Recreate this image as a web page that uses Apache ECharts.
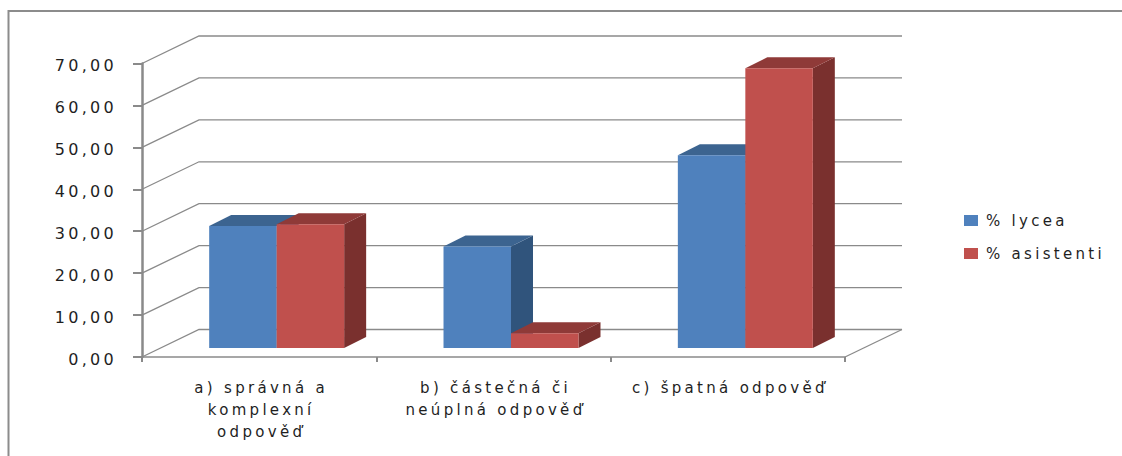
<!DOCTYPE html>
<html>
<head>
<meta charset="utf-8">
<style>
  html, body { margin: 0; padding: 0; background: #fff; }
  #chart { width: 1122px; height: 456px; }
  svg text { letter-spacing: 3.3px; }
</style>
<script src="https://cdn.jsdelivr.net/npm/echarts@6/dist/echarts.min.js"></script>
</head>
<body>
<div id="chart"></div>
<script>
const categories = ['a) správná a\nkomplexní\nodpověď', 'b) částečná či\nneúplná odpověď', 'c) špatná odpověď'];
const lycea = [29.1, 24.2, 46.0];
const asistenti = [29.5, 3.5, 66.7];
const yTicks = [0, 10, 20, 30, 40, 50, 60, 70];

// Oblique projection used for the pseudo-3D look, in pixels.
const WALL = { dx: 57, dy: 27.5 };
const BAR_OFFSET = { dx: 17.5, dy: 9 };
const BAR_DEPTH = { dx: 22, dy: 11 };
const BAR_BAND_RATIO = 0.288;

const GRID_COLOR = '#8a8a8a';
const TEXT_COLOR = '#1f1f1f';
const FONT = '"DejaVu Sans", sans-serif';

const palettes = [
  { front: '#4f81bd', top: '#3c6490', side: '#30547c' },
  { front: '#c0504d', top: '#8f3a38', side: '#7a302e' }
];

// Draws the back wall: one receding line and one horizontal line per tick.
function renderWall(params, api) {
  const rect = params.coordSys;
  const p = api.coord([0, api.value(1)]);
  const x0 = rect.x;
  const y = p[1];
  const lineStyle = { stroke: GRID_COLOR, lineWidth: 1.3, fill: null };
  const children = [{
    type: 'polyline',
    shape: { points: [[x0, y], [x0 + WALL.dx, y - WALL.dy], [x0 + rect.width + WALL.dx, y - WALL.dy]] },
    style: lineStyle
  }];
  if (api.value(1) === 0) {
    children.push({
      type: 'line',
      shape: { x1: x0 + rect.width, y1: y, x2: x0 + rect.width + WALL.dx, y2: y - WALL.dy },
      style: lineStyle
    });
  }
  return { type: 'group', children };
}

// Draws a cuboid: side, top and front faces of one bar.
function renderBar(seriesPos) {
  const colors = palettes[seriesPos];
  return function (params, api) {
    const top = api.coord([api.value(0), api.value(1)]);
    const base = api.coord([api.value(0), 0]);
    const w = api.size([1, 0])[0] * BAR_BAND_RATIO;
    const xl = top[0] + BAR_OFFSET.dx + (seriesPos - 1) * w;
    const xr = xl + w;
    const yt = top[1] - BAR_OFFSET.dy;
    const yb = base[1] - BAR_OFFSET.dy;
    const dx = BAR_DEPTH.dx;
    const dy = BAR_DEPTH.dy;
    return {
      type: 'group',
      children: [
        { type: 'polygon',
          shape: { points: [[xr, yt], [xr + dx, yt - dy], [xr + dx, yb - dy], [xr, yb]] },
          style: { fill: colors.side } },
        { type: 'polygon',
          shape: { points: [[xl, yt], [xl + dx, yt - dy], [xr + dx, yt - dy], [xr, yt]] },
          style: { fill: colors.top } },
        { type: 'rect',
          shape: { x: xl, y: yt, width: w, height: yb - yt },
          style: { fill: colors.front } }
      ]
    };
  };
}

function barSeries(name, values, pos) {
  return {
    type: 'custom',
    name,
    z: 3 + pos,
    clip: false,
    silent: true,
    renderItem: renderBar(pos),
    itemStyle: { color: palettes[pos].front },
    encode: { x: 0, y: 1 },
    data: values.map((v, i) => [i, v])
  };
}

const chart = echarts.init(document.getElementById('chart'), null, { renderer: 'svg' });
chart.setOption({
  animation: false,
  backgroundColor: '#fff',
  graphic: [{
    type: 'rect',
    silent: true,
    shape: { x: 8.5, y: 11, width: 1300, height: 600 },
    style: { fill: null, stroke: '#8c8c8c', lineWidth: 2 }
  }],
  grid: { left: 142, top: 63.5, width: 703, height: 293.5, containLabel: false },
  legend: {
    left: 959,
    top: 208,
    orient: 'vertical',
    itemWidth: 14,
    itemHeight: 11,
    itemGap: 18,
    icon: 'rect',
    selectedMode: false,
    data: ['% lycea', '% asistenti'],
    textStyle: { fontFamily: FONT, fontSize: 15, color: TEXT_COLOR, padding: [0, 0, 0, 3] }
  },
  xAxis: {
    type: 'category',
    data: categories,
    axisLine: { lineStyle: { color: GRID_COLOR, width: 1.5 } },
    axisTick: { show: true, alignWithLabel: false, length: 5, lineStyle: { color: GRID_COLOR, width: 2 } },
    axisLabel: {
      interval: 0,
      margin: 20,
      lineHeight: 22,
      padding: [0, 0, 0, 4],
      fontFamily: FONT,
      fontSize: 15,
      color: TEXT_COLOR,
      verticalAlign: 'top'
    }
  },
  yAxis: {
    type: 'value',
    min: 0,
    max: 70,
    interval: 10,
    splitLine: { show: false },
    axisLine: { show: true, lineStyle: { color: GRID_COLOR, width: 2.5 } },
    axisTick: { show: true, length: 9, lineStyle: { color: GRID_COLOR, width: 2 } },
    axisLabel: {
      margin: 25,
      verticalAlign: 'top',
      lineHeight: 4,
      fontFamily: FONT,
      fontSize: 16,
      color: TEXT_COLOR,
      formatter: v => v.toFixed(2).replace('.', ',')
    }
  },
  series: [
    {
      type: 'custom',
      name: 'wall',
      z: 1,
      clip: false,
      silent: true,
      renderItem: renderWall,
      encode: { x: 0, y: 1 },
      data: yTicks.map(v => [0, v])
    },
    barSeries('% lycea', lycea, 0),
    barSeries('% asistenti', asistenti, 1)
  ]
});
</script>
</body>
</html>
